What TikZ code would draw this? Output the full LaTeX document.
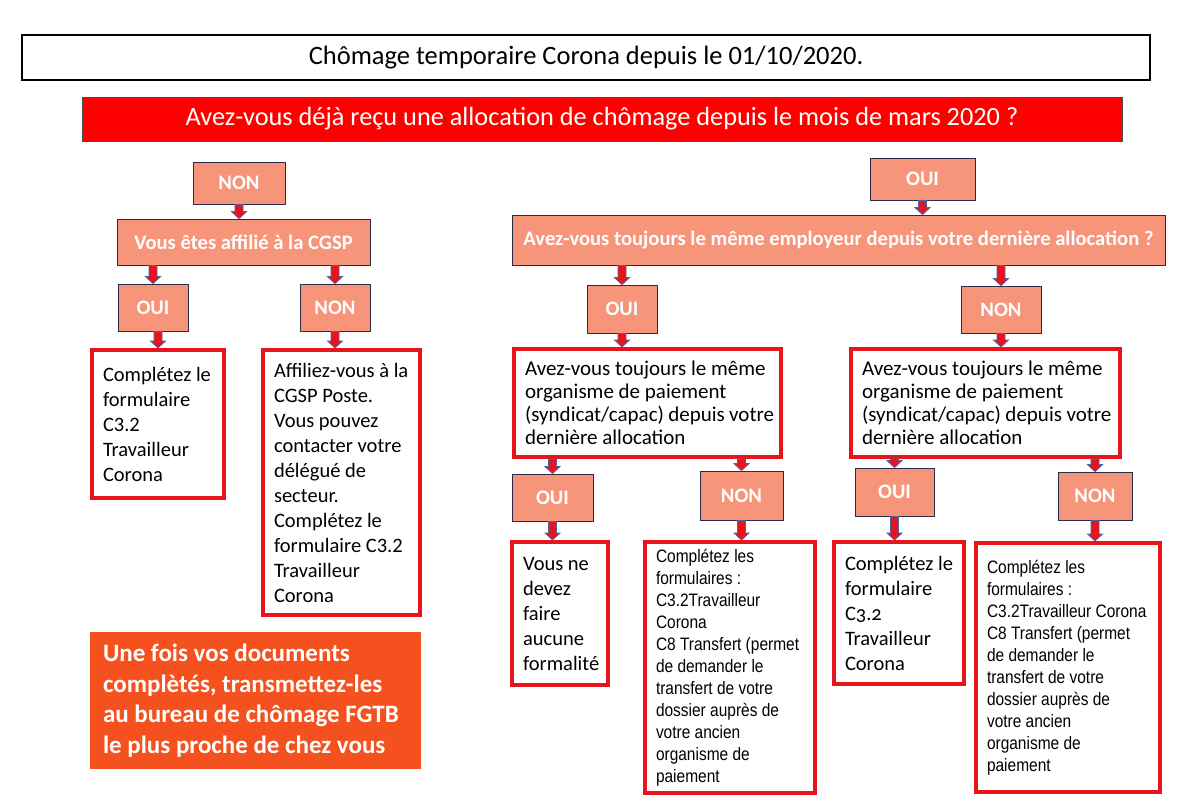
\documentclass[tikz,border=0pt]{standalone}
\usepackage{fontspec}
\setmainfont{Carlito}
\newfontfamily\narrowsans[FakeStretch=0.86]{Liberation Sans}
\usetikzlibrary{calc}

\definecolor{bannerred}{HTML}{FF0000}
\definecolor{salmon}{HTML}{F7957A}
\definecolor{navyline}{HTML}{2A2D45}
\definecolor{boxred}{HTML}{E8141B}
\definecolor{finalorange}{HTML}{F4511E}
\definecolor{arrowblue}{HTML}{4F62A8}
\definecolor{arrowred}{HTML}{E8141B}

\begin{document}
\begin{tikzpicture}[
    x=1pt, y=-1pt, % one unit per pixel, y going down
    headbox/.style={draw=black, line width=2pt, font=\fontsize{26.5}{30}\selectfont}, % Style for the title
    banner/.style={draw=black!70, line width=0.8pt, fill=bannerred, text=white, font=\fontsize{26.3}{30}\selectfont}, % Style for the question banner
    choice/.style={draw=navyline, line width=0.8pt, fill=salmon, text=white, font=\bfseries\fontsize{20.6}{24}\selectfont}, % Style for OUI/NON boxes
    answer/.style={draw=boxred, line width=4pt, align=left, font=\fontsize{20.5}{25}\selectfont,
        execute at begin node={\spaceskip=0pt\xspaceskip=0pt\rightskip=0pt plus 1fil minus 15pt\relax}}, % Style for red framed texts
    formbox/.style={answer, font=\narrowsans\fontsize{18}{22}\selectfont}, % Style for the form lists
    finalbox/.style={fill=finalorange, text=white, align=left, font=\bfseries\fontsize{25}{30.5}\selectfont,
        execute at begin node={\spaceskip=0pt\xspaceskip=0pt\rightskip=0pt plus 1fil minus 15pt\relax}}, % Style for the closing note
    wh/.style 2 args={minimum width=#1, minimum height=#2, inner sep=0pt}, % Size of a box
    conn/.style={draw=arrowblue, fill=arrowred, line width=0.8pt,
        to path={let \p1=(\tikztostart), \p2=(\tikztotarget) in
            (\x2-4pt,\y1) -- (\x2+4pt,\y1) -- (\x2+4pt,\y2+7pt) -- (\x2+7.5pt,\y2+7pt)
            -- (\x2,\y2) -- (\x2-7.5pt,\y2+7pt) -- (\x2-4pt,\y2+7pt) -- cycle}} % Block arrow
]

    \useasboundingbox (0,0) rectangle (1188,803);

    % Title and main question
    \node[headbox, wh={1128pt}{45pt}] (title) at (586,57.5) {Chômage temporaire Corona depuis le 01/10/2020.};
    \node[banner, wh={1040pt}{44pt}] (question) at (602,119) {Avez-vous déjà reçu une allocation de chômage depuis le mois de mars 2020 ?};

    % Left branch: NON
    \node[choice, wh={92pt}{42pt}] (non) at (239,183) {NON};
    \node[choice, wh={253pt}{46pt}] (cgsp) at (243.5,242) {Vous êtes affilié à la CGSP};
    \node[choice, wh={70pt}{47pt}] (cgspoui) at (153,307.5) {OUI};
    \node[choice, wh={70pt}{47pt}] (cgspnon) at (335,307.5) {NON};
    \node[answer, wh={132pt}{148pt}, text width=110pt] (formc) at (158,424)
        {Complétez le\\ formulaire\\ C3.2\\ Travailleur\\ Corona};
    \node[answer, wh={157pt}{265pt}, text width=135pt] (affil) at (341.5,482.5)
        {Affiliez-vous à la\\ CGSP Poste.\\ Vous pouvez\\ contacter votre\\ délégué de\\ secteur.\\ Complétez le\\ formulaire C3.2\\ Travailleur\\ Corona};
    \node[finalbox, wh={331pt}{137pt}, text width=305pt] (final) at (255.5,700.5)
        {Une fois vos documents\\ complètés, transmettez-les\\ au bureau de chômage FGTB\\ le plus proche de chez vous};

    % Right branch: OUI
    \node[choice, wh={105pt}{42pt}] (oui) at (922.5,179) {OUI};
    \node[choice, wh={653pt}{50pt}, font=\bfseries\fontsize{20.6}{24}\selectfont] (employ) at (838.5,240)
        {Avez-vous toujours le même employeur depuis votre dernière allocation ?};
    \node[choice, wh={70pt}{48pt}] (empoui) at (622,309) {OUI};
    \node[choice, wh={80pt}{47pt}] (empnon) at (1001,309.5) {NON};
    \node[answer, wh={267pt}{108pt}, text width=245pt, font=\fontsize{21}{23}\selectfont] (orga) at (647.5,403)
        {Avez-vous toujours le même\\ organisme de paiement\\ (syndicat/capac) depuis votre\\ dernière allocation};
    \node[answer, wh={269pt}{108pt}, text width=247pt, font=\fontsize{21}{23}\selectfont] (orgb) at (985.5,403)
        {Avez-vous toujours le même\\ organisme de paiement\\ (syndicat/capac) depuis votre\\ dernière allocation};
    \node[choice, wh={81pt}{47pt}] (orgaoui) at (552.5,497.5) {OUI};
    \node[choice, wh={83pt}{49pt}] (organon) at (741.5,495.5) {NON};
    \node[choice, wh={79pt}{48pt}] (orgboui) at (894.5,492) {OUI};
    \node[choice, wh={74pt}{48pt}] (orgbnon) at (1095,496) {NON};
    \node[answer, wh={96pt}{143pt}, text width=74pt] (nothing) at (560,613.5)
        {Vous ne\\ devez\\ faire\\ aucune\\ formalité};
    \node[formbox, wh={170pt}{251pt}, text width=148pt] (transa) at (730,667.5)
        {Complétez les\\ formulaires :\\ C3.2Travailleur\\ Corona\\ C8 Transfert (permet\\ de demander le\\ transfert de votre\\ dossier auprès de\\ votre ancien\\ organisme de\\ paiement};
    \node[answer, wh={130pt}{142pt}, text width=108pt] (formd) at (899,613)
        {Complétez le\\ formulaire\\ {\addfontfeature{Numbers=OldStyle}C3.2}\\ Travailleur\\ Corona};
    \node[formbox, wh={184pt}{249pt}, text width=162pt] (transb) at (1068,667.5)
        {Complétez les\\ formulaires :\\ C3.2Travailleur Corona\\ C8 Transfert (permet\\ de demander le\\ transfert de votre\\ dossier auprès de\\ votre ancien\\ organisme de\\ paiement};

    % Arrows
    \path[conn] (non.south) to (cgsp.north -| non);
    \path[conn] (cgsp.south) to (cgspoui.north);
    \path[conn] (cgsp.south) to (cgspnon.north);
    \path[conn] (cgspoui.south) to (formc.north);
    \path[conn] (cgspnon.south) to (affil.north -| cgspnon);
    \path[conn] (oui.south) to (employ.north -| oui);
    \path[conn] (employ.south) to (empoui.north);
    \path[conn] (employ.south) to (empnon.north);
    \path[conn] (empoui.south) to (orga.north -| empoui);
    \path[conn] (empnon.south) to (orgb.north -| empnon);
    \path[conn] (orga.south) to (orgaoui.north);
    \path[conn] (orga.south) to (organon.north);
    \path[conn] (orgb.south) to (orgboui.north);
    \path[conn] (orgb.south) to (orgbnon.north);
    \path[conn] (orgaoui.south) to (nothing.north -| orgaoui);
    \path[conn] (organon.south) to (transa.north -| organon);
    \path[conn] (orgboui.south) to (formd.north -| orgboui);
    \path[conn] (orgbnon.south) to (transb.north -| orgbnon);

\end{tikzpicture}
\end{document}
